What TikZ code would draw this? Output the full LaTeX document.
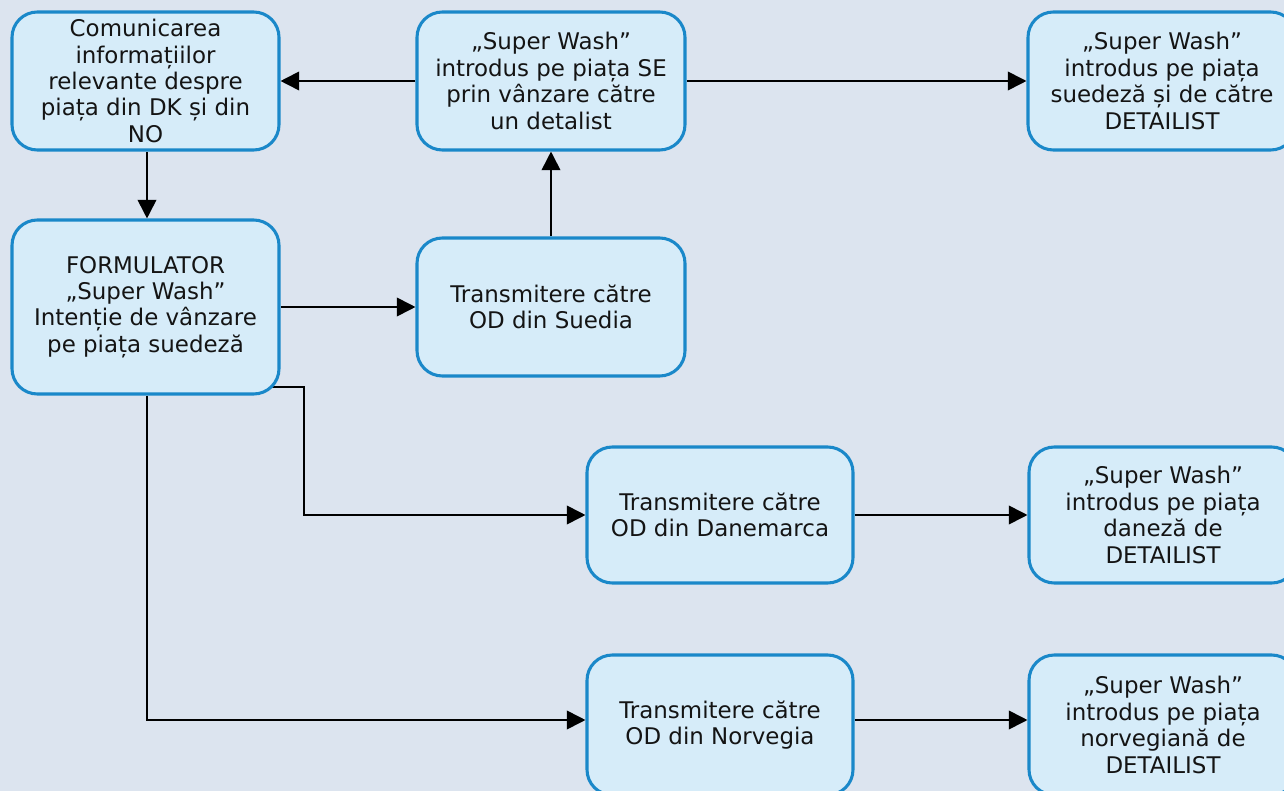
\documentclass[tikz,border=0pt]{standalone}
\usepackage{fontspec}
\setmainfont{DejaVu Sans}
\usetikzlibrary{arrows.meta,backgrounds}
\definecolor{pagebg}{HTML}{DCE4EF}
\definecolor{boxfill}{HTML}{D6ECF9}
\definecolor{boxline}{HTML}{1A88C9}
\begin{document}
\begin{tikzpicture}[x=0.75pt,y=-0.75pt,
  box/.style={draw=boxline, fill=boxfill, line width=2.3pt, rounded corners=19pt,
    align=center, inner sep=0pt, text=black!92,
    font=\fontsize{17.2}{19.8}\selectfont},
  conn/.style={line width=1.3pt, -{Triangle[length=14pt,width=14pt]}},
  plain/.style={line width=1.3pt}]
\useasboundingbox (0,0) rectangle (1284,791);

% process boxes
\node[box, minimum width=267*0.75pt, minimum height=138*0.75pt] (com) at (145.5,81)
  {Comunicarea\\informațiilor\\relevante despre\\piața din DK și din\\NO};
\node[box, minimum width=268*0.75pt, minimum height=138*0.75pt] (se) at (551,81)
  {„Super Wash”\\introdus pe piața SE\\prin vânzare către\\un detalist};
\node[box, minimum width=268*0.75pt, minimum height=138*0.75pt] (sedet) at (1162,81)
  {„Super Wash”\\introdus pe piața\\suedeză și de către\\DETAILIST};
\node[box, minimum width=267*0.75pt, minimum height=174*0.75pt] (form) at (145.5,307)
  {FORMULATOR\\„Super Wash”\\Intenție de vânzare\\pe piața suedeză};
\node[box, minimum width=268*0.75pt, minimum height=138*0.75pt] (sue) at (551,307)
  {Transmitere către\\OD din Suedia};
\node[box, minimum width=266*0.75pt, minimum height=136*0.75pt] (dan) at (720,515)
  {Transmitere către\\OD din Danemarca};
\node[box, minimum width=268*0.75pt, minimum height=136*0.75pt] (dandet) at (1163,515)
  {„Super Wash”\\introdus pe piața\\daneză de\\DETAILIST};
\node[box, minimum width=266*0.75pt, minimum height=140*0.75pt] (nor) at (720,725)
  {Transmitere către\\OD din Norvegia};
\node[box, minimum width=268*0.75pt, minimum height=140*0.75pt] (nordet) at (1163,725)
  {„Super Wash”\\introdus pe piața\\norvegiană de\\DETAILIST};

\coordinate (bendD) at (304,387);
\coordinate (bendN) at (147,720);

\begin{scope}[on background layer]
  \fill[pagebg] (0,0) rectangle (1284,791);
  \draw[conn] (se.west) -- (com.east);
  \draw[conn] (se.east) -- (sedet.west);
  \draw[conn] (com.south -| bendN) -- (form.north -| bendN);
  \draw[conn] (sue.north) -- (se.south);
  \draw[conn] (form.east) -- (sue.west);
  \draw[conn] (form.center |- bendD) -- (bendD) |- (dan.west);
  \draw[conn] (form.south -| bendN) -- (bendN) -- (nor.west |- bendN);
  \draw[conn] (dan.east) -- (dandet.west);
  \draw[conn] (nor.east |- bendN) -- (nordet.west |- bendN);
\end{scope}
\end{tikzpicture}
\end{document}
